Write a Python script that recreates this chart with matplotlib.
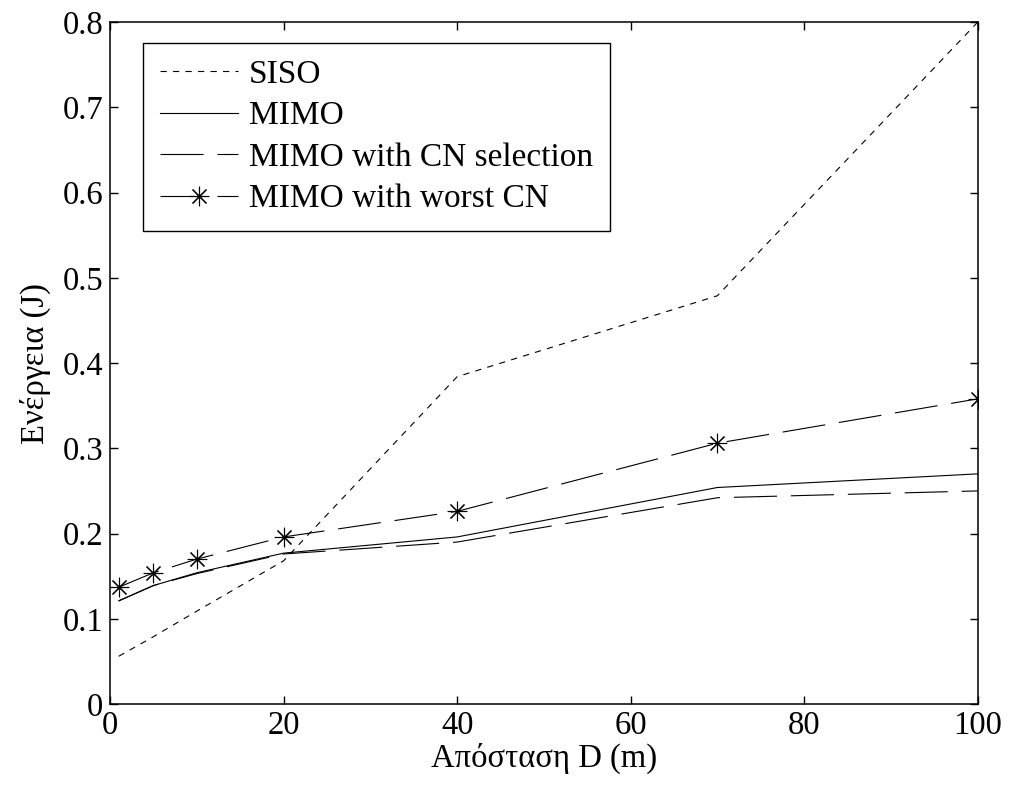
import matplotlib
import matplotlib.pyplot as plt
from matplotlib.ticker import FuncFormatter

matplotlib.use("Agg")
plt.rcParams["font.family"] = ["Liberation Serif", "DejaVu Serif"]
plt.rcParams["lines.scale_dashes"] = False

# distance D (m)
distance = [1, 5, 10, 20, 40, 70, 100]

# energy (J) per scheme
siso = [0.056, 0.079, 0.109, 0.168, 0.384, 0.479, 0.800]
mimo = [0.121, 0.139, 0.154, 0.177, 0.196, 0.254, 0.270]
mimo_cn_sel = [0.121, 0.139, 0.153, 0.176, 0.190, 0.242, 0.250]
mimo_worst_cn = [0.137, 0.154, 0.170, 0.196, 0.226, 0.306, 0.358]

labels = ["SISO", "MIMO", "MIMO with CN selection", "MIMO with worst CN"]

FS = 23.5

fig = plt.figure(figsize=(10.10, 7.91), dpi=100)
ax = fig.add_axes([0.109, 0.110, 0.859, 0.862])

lw = 0.8
ax.plot(distance, siso, color="black", lw=lw, dashes=(4.5, 4.5), label=labels[0])
ax.plot(distance, mimo, color="black", lw=lw, label=labels[1])
ax.plot(distance, mimo_cn_sel, color="black", lw=lw, dashes=(31, 10), label=labels[2])
ax.plot(distance, mimo_worst_cn, color="black", lw=lw, dashes=(31, 10),
        marker=(8, 2, 0), markersize=14, markeredgewidth=0.8, label=labels[3])

ax.set_xlim(0, 100)
ax.set_ylim(0, 0.8)
ax.set_xticks(range(0, 101, 20))
ax.set_yticks([i / 10 for i in range(9)])
ax.yaxis.set_major_formatter(FuncFormatter(lambda v, p: f"{v:g}"))

ax.tick_params(direction="in", length=6, width=1, labelsize=FS, top=True, right=True, pad=5)
for s in ax.spines.values():
    s.set_linewidth(1.1)

ax.set_xlabel("Απόσταση D (m)", fontsize=FS, labelpad=1)
ax.set_ylabel("Ενέργεια (J)", fontsize=FS, labelpad=8)

leg = ax.legend(loc="upper left", bbox_to_anchor=(0.038, 0.970), fontsize=24,
                handlelength=2.35, handletextpad=0.32, borderpad=0.5, borderaxespad=0,
                labelspacing=0.33, fancybox=False, framealpha=1, edgecolor="black")
leg.get_frame().set_linewidth(1.0)

fig.savefig("out.png", dpi=100)
